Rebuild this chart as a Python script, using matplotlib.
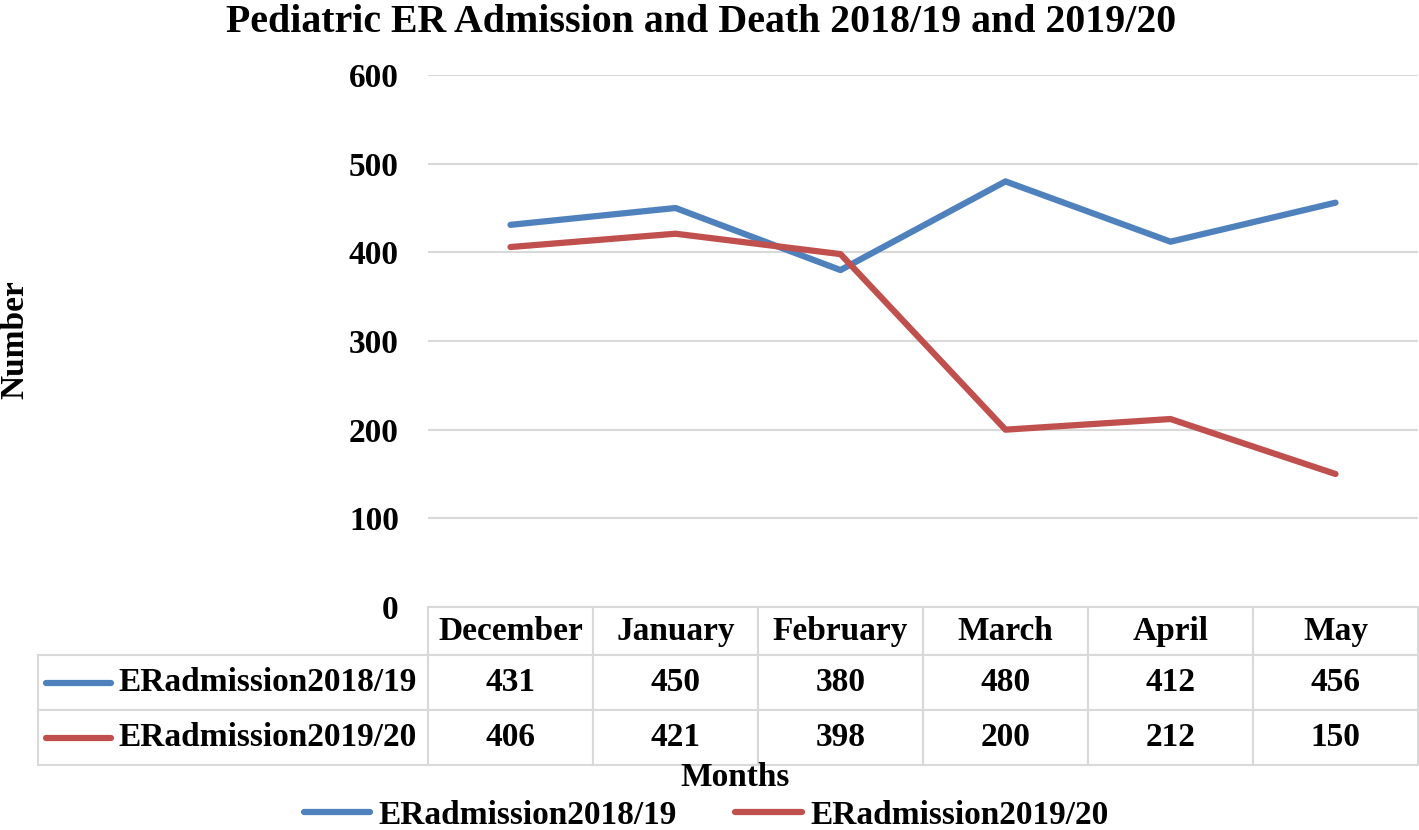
import matplotlib
matplotlib.use('Agg')
import matplotlib.pyplot as plt
from matplotlib.lines import Line2D

plt.rcParams['font.family'] = ['Liberation Serif', 'DejaVu Serif']
plt.rcParams['font.weight'] = 'bold'
plt.rcParams['font.size'] = 24

months = ['December', 'January', 'February', 'March', 'April', 'May']
series_names = ['ERadmission2018/19', 'ERadmission2019/20']
adm_1819 = [431, 450, 380, 480, 412, 456]
adm_1920 = [406, 421, 398, 200, 212, 150]
colors = ['#4F81BD', '#C0504D']
yticks = [0, 100, 200, 300, 400, 500, 600]

W, H = 1419, 830
fig = plt.figure(figsize=(W / 100, H / 100), dpi=100)
# axes box in pixels: left 428, right 1418, top 75 (600), bottom 607 (0)
AX_W, AX_H = 990, 607 - 75
ax = fig.add_axes([428 / W, 1 - 607 / H, AX_W / W, AX_H / H])

x = list(range(len(months)))
ax.plot(x, adm_1819, color=colors[0], lw=4.5, solid_capstyle='round', zorder=3)
ax.plot(x, adm_1920, color=colors[1], lw=4.5, solid_capstyle='round', zorder=3)

ax.set_xlim(-0.5, len(months) - 0.5)
ax.set_ylim(0, 600)
ax.set_yticks(yticks)
ax.set_xticks([])
ax.tick_params(axis='y', length=0, pad=21, labelsize=24)
for t in ax.get_yticklabels():
    t.set_fontweight('bold')
ax.yaxis.grid(True, color='#D9D9D9', lw=1.5)
ax.set_axisbelow(True)
for s in ax.spines.values():
    s.set_visible(False)

# data table just under the plot, row labels hang to the left
label_w = 390 / AX_W
cell_text = [[str(v) for v in adm_1819], [str(v) for v in adm_1920]]
tbl = ax.table(cellText=cell_text, rowLabels=series_names, colLabels=months,
               cellLoc='center', rowLoc='left', loc='bottom')
tbl.auto_set_font_size(False)
tbl.set_fontsize(24)
# keep the fixed label column width instead of the automatic one
tbl._autoColumns = [c for c in getattr(tbl, '_autoColumns', []) if c != -1]
for (r, c), cell in tbl.get_celld().items():
    cell.set_edgecolor('#D9D9D9')
    cell.set_linewidth(1.5)
    cell.get_text().set_fontweight('bold')
    cell.set_width(label_w if c == -1 else 165 / AX_W)
    cell.set_height((48 if r == 0 else 55) / AX_H)
    if c == -1:
        cell.PAD = 80 / 390

# legend keys inside the row label cells
row_y = [(607 - 683) / AX_H, (607 - 738) / AX_H]
for yy, col in zip(row_y, colors):
    ax.add_line(Line2D([(46 - 428) / AX_W, (111 - 428) / AX_W], [yy, yy],
                       transform=ax.transAxes, color=col, lw=4.5,
                       solid_capstyle='round', clip_on=False))

fig.text(15 / W, 1 - 340 / H, 'Number', rotation=90, ha='center', va='center',
         fontsize=24, fontweight='bold')
fig.text(735 / W, 1 - 777 / H, 'Months', ha='center', va='center',
         fontsize=24, fontweight='bold')
fig.text(701 / W, 1 - 22 / H, 'Pediatric ER Admission and Death 2018/19 and 2019/20',
         ha='center', va='center', fontsize=28.7, fontweight='bold')

handles = [Line2D([], [], color=c, lw=4.5, solid_capstyle='round') for c in colors]
fig.legend(handles, series_names, loc='center', bbox_to_anchor=(706 / W, 1 - 815 / H),
           ncol=2, frameon=False, handlelength=2.0, handletextpad=0.25,
           columnspacing=1.75, prop={'size': 24, 'weight': 'bold'})

fig.savefig('out.png', dpi=100)
